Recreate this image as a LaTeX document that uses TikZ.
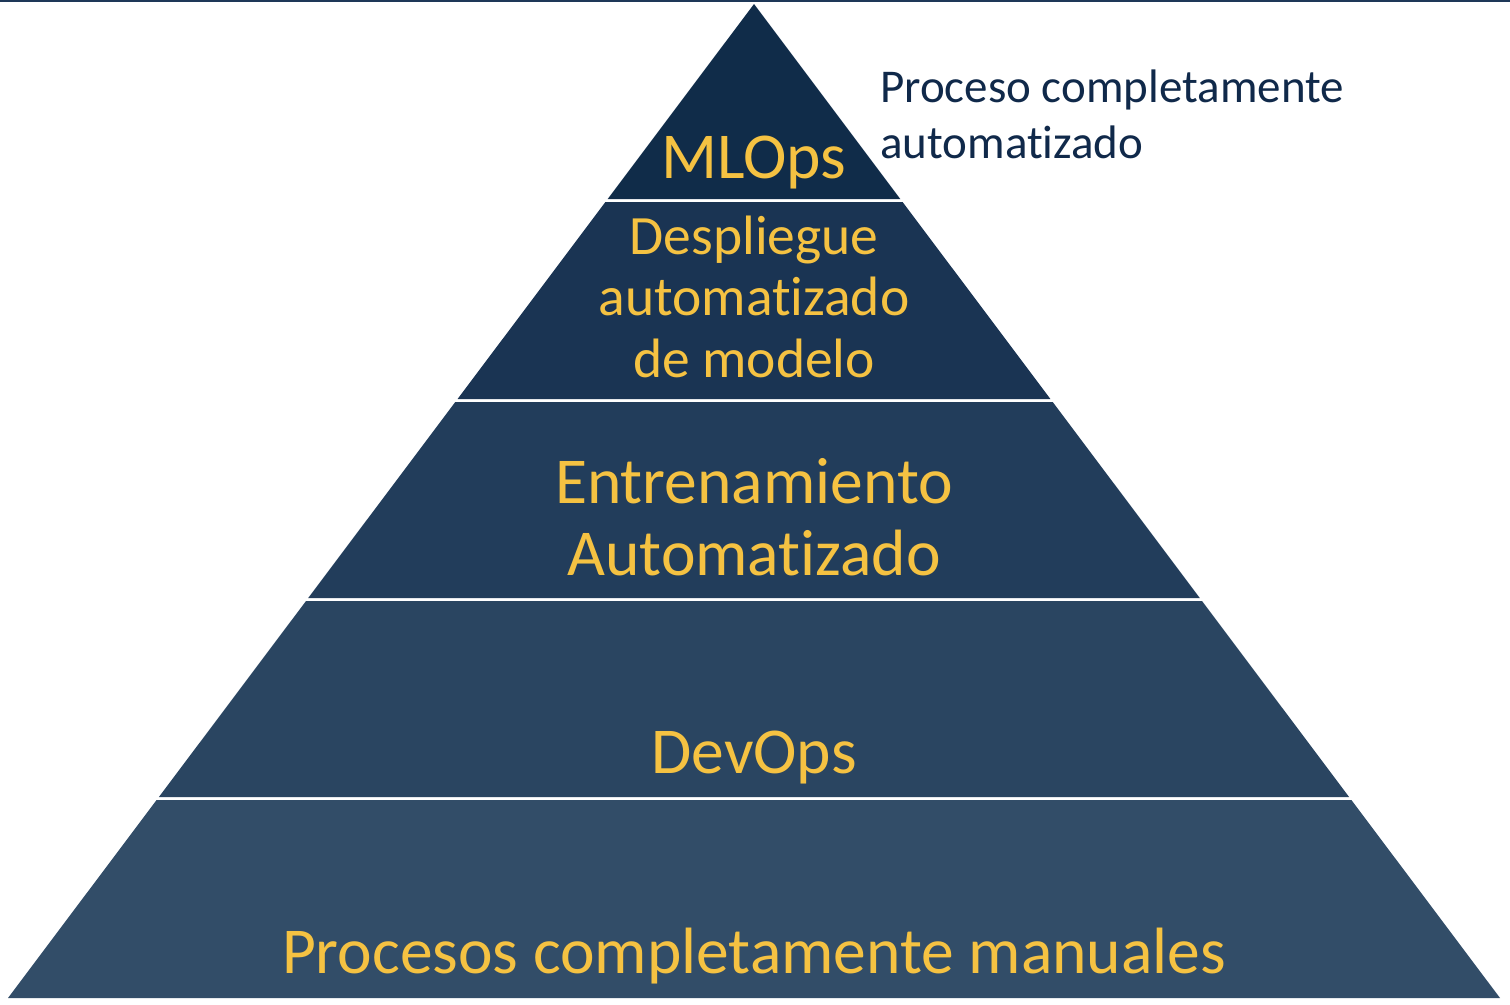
\documentclass[tikz,border=0pt]{standalone}
\usepackage{fontspec}
\setmainfont{Carlito}[Ligatures=NoCommon]
\definecolor{bandA}{HTML}{102C49}
\definecolor{bandB}{HTML}{1A3453}
\definecolor{bandC}{HTML}{223D5B}
\definecolor{bandD}{HTML}{2A4561}
\definecolor{bandE}{HTML}{324D68}
\definecolor{gold}{HTML}{F5C242}
\definecolor{navy}{HTML}{10294A}
\definecolor{topline}{HTML}{1E3858}
\begin{document}
\begin{tikzpicture}[x=1pt,y=-1pt,
  lbl/.style={text=gold,anchor=base,inner sep=0pt,align=center},
  big/.style={lbl,font=\fontsize{65.5}{72}\selectfont},
  mid/.style={lbl,font=\fontsize{55.5}{61.5}\selectfont},
  side/.style={text=navy,anchor=base west,inner sep=0pt,align=left,font=\fontsize{47}{56}\selectfont}]
\useasboundingbox (0,0) rectangle (1510,1004);
\fill[white] (0,0) rectangle (1510,1004);
\fill[topline] (0,0) rectangle (1510,2.2);
% bands
\fill[bandA] (754,4) -- (900.3,199) -- (607.7,199) -- cycle;
\fill[bandB] (605.4,202) -- (902.6,202) -- (1050.4,399) -- (457.6,399) -- cycle;
\fill[bandC] (455.3,402) -- (1052.7,402) -- (1199.8,598) -- (308.2,598) -- cycle;
\fill[bandD] (306.0,601) -- (1202.0,601) -- (1349.1,797) -- (158.9,797) -- cycle;
\fill[bandE] (156.6,800) -- (1351.4,800) -- (1500,998) -- (8,998) -- cycle;
% labels (multi-line nodes: base = last line's baseline)
\node[big] (mlops) at (754,178) {MLOps};
\node[mid] (desp) at (754,377) {Despliegue\\automatizado\\de modelo};
\node[big] (entr) at (754,575) {Entrenamiento\\Automatizado};
\node[big] (devops) at (754,773) {DevOps};
\node[big] (manual) at (754,973) {Procesos completamente manuales};
\node[side] (note) at (880,158) {Proceso completamente\\automatizado};
\end{tikzpicture}
\end{document}
